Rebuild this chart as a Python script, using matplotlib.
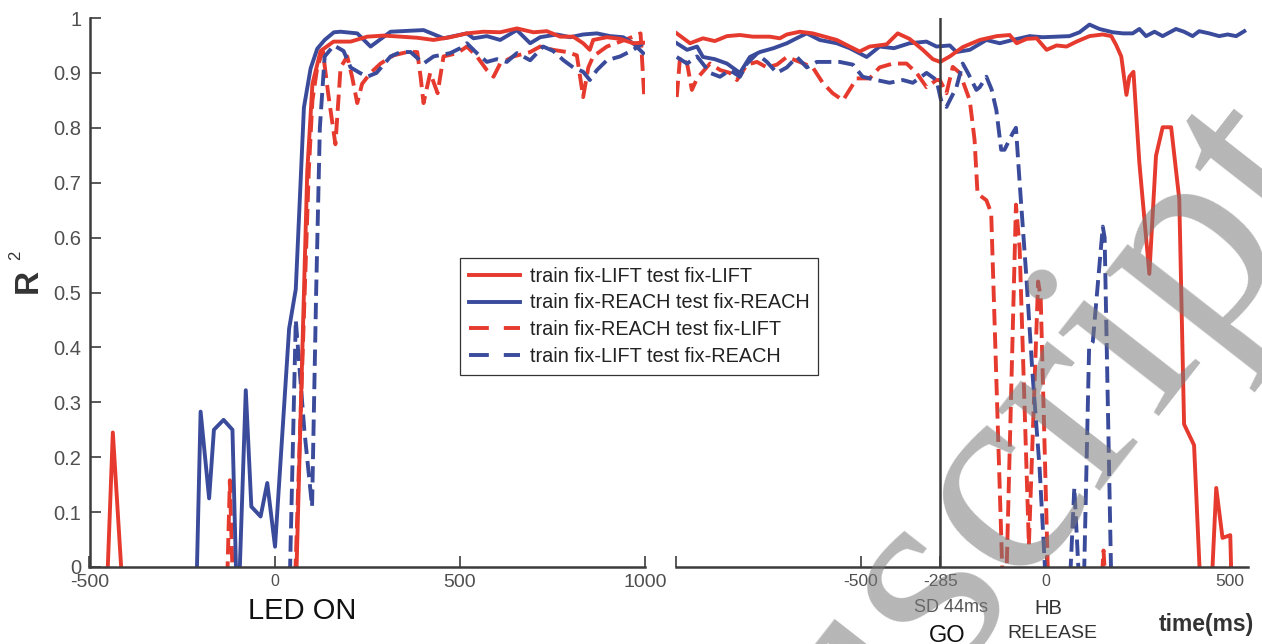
import matplotlib
matplotlib.use('Agg')
import matplotlib.pyplot as plt
from matplotlib.lines import Line2D

plt.rcParams['font.family'] = ['Liberation Sans', 'DejaVu Sans']

RED = '#e63a2e'
BLUE = '#3b4b9b'
AXC = '#3c3c3c'
TICKC = '#4f4f4f'

# ---------------- left panel (aligned on LED ON) ----------------
lift_lift_L_t = [-500, -455, -437, -410, -380, 40, 58, 75, 88, 102, 124, 159, 205, 250, 294, 340, 385, 429,
                 474, 519, 564, 609, 654, 699, 735, 771, 806, 833, 851, 860, 897, 933, 968, 995]
lift_lift_L_v = [-0.6, -0.08, 0.245, -0.05, -0.6, -0.3, -0.03, 0.40, 0.72, 0.88, 0.94, 0.957, 0.957, 0.966,
                 0.968, 0.966, 0.964, 0.96, 0.965, 0.972, 0.975, 0.974, 0.981, 0.974, 0.976, 0.966, 0.966,
                 0.954, 0.942, 0.96, 0.965, 0.962, 0.954, 0.955]

reach_reach_L_t = [-500, -215, -200, -177, -164, -138, -114, -100, -78, -63, -38, -20, 1, 39, 57, 79, 97, 115,
                   135, 160, 178, 223, 259, 313, 402, 456, 519, 537, 573, 609, 654, 690, 717, 762, 798, 833,
                   870, 906, 941, 968, 995]
reach_reach_L_v = [-0.6, -0.15, 0.283, 0.125, 0.25, 0.268, 0.25, -0.12, 0.322, 0.11, 0.092, 0.153, 0.037,
                   0.434, 0.506, 0.837, 0.908, 0.944, 0.96, 0.974, 0.975, 0.972, 0.948, 0.975, 0.978, 0.963,
                   0.972, 0.963, 0.967, 0.96, 0.978, 0.954, 0.965, 0.97, 0.965, 0.97, 0.972, 0.967, 0.965,
                   0.954, 0.936]

reach_lift_L_t = [-500, -131, -121, -110, -60, 40, 55, 70, 92, 102, 115, 130, 145, 164, 178, 196, 209, 223,
                  236, 259, 286, 321, 358, 385, 394, 402, 420, 440, 447, 456, 493, 519, 546, 573, 591, 609,
                  645, 690, 717, 752, 789, 816, 833, 847, 860, 897, 933, 968, 988, 998]
reach_lift_L_v = [-0.6, -0.1, 0.158, -0.1, -0.6, -0.3, -0.03, 0.277, 0.72, 0.85, 0.91, 0.94, 0.86, 0.77,
                  0.91, 0.93, 0.893, 0.845, 0.88, 0.90, 0.917, 0.932, 0.938, 0.938, 0.893, 0.845, 0.90, 0.863,
                  0.893, 0.93, 0.936, 0.948, 0.93, 0.905, 0.893, 0.917, 0.93, 0.938, 0.948, 0.942, 0.938,
                  0.932, 0.856, 0.91, 0.93, 0.948, 0.957, 0.966, 0.972, 0.856]

lift_reach_L_t = [-500, 25, 40, 57, 80, 101, 112, 122, 135, 160, 186, 205, 230, 250, 275, 313, 340, 367, 402,
                  429, 474, 501, 519, 546, 573, 600, 627, 654, 690, 725, 752, 780, 806, 833, 851, 870, 897,
                  933, 968, 995]
lift_reach_L_v = [-0.6, -0.3, -0.05, 0.45, 0.25, 0.11, 0.5, 0.8, 0.93, 0.95, 0.94, 0.91, 0.90, 0.893, 0.90,
                  0.93, 0.938, 0.938, 0.917, 0.93, 0.936, 0.945, 0.954, 0.936, 0.92, 0.925, 0.92, 0.936,
                  0.923, 0.948, 0.94, 0.923, 0.91, 0.902, 0.887, 0.905, 0.923, 0.93, 0.942, 0.954]

# ---------------- right panel (aligned on HB RELEASE) ----------------
lift_lift_R_t = [-998, -962, -927, -895, -862, -827, -792, -746, -719, -700, -665, -630, -603, -565, -530,
                 -503, -476, -430, -400, -368, -332, -305, -285, -259, -224, -178, -132, -97, -78, -51, -24,
                 3, 30, 57, 84, 119, 155, 178, 191, 205, 219, 227, 238, 254, 281, 299, 317, 340, 362, 375,
                 402, 430, 445, 462, 479, 500, 510]
lift_lift_R_v = [0.972, 0.954, 0.963, 0.958, 0.967, 0.969, 0.966, 0.966, 0.963, 0.97, 0.975, 0.972, 0.967,
                 0.96, 0.948, 0.939, 0.948, 0.952, 0.972, 0.962, 0.942, 0.925, 0.92, 0.93, 0.947, 0.96,
                 0.967, 0.969, 0.954, 0.962, 0.963, 0.942, 0.95, 0.948, 0.957, 0.967, 0.97, 0.967, 0.951,
                 0.93, 0.86, 0.893, 0.902, 0.736, 0.534, 0.749, 0.801, 0.801, 0.67, 0.26, 0.222, -0.2, -0.1,
                 0.144, 0.053, 0.058, -0.2]

reach_reach_R_t = [-998, -970, -943, -927, -895, -862, -827, -800, -773, -736, -700, -665, -646, -611, -565,
                   -530, -484, -449, -410, -368, -322, -295, -259, -241, -205, -160, -124, -89, -43, -8, 30,
                   65, 92, 119, 146, 182, 210, 236, 254, 272, 295, 317, 353, 375, 398, 416, 443, 470, 493,
                   516, 538]
reach_reach_R_v = [0.954, 0.942, 0.948, 0.929, 0.925, 0.917, 0.90, 0.929, 0.938, 0.945, 0.954, 0.966, 0.972,
                   0.96, 0.954, 0.945, 0.929, 0.948, 0.945, 0.954, 0.957, 0.948, 0.95, 0.938, 0.942, 0.96,
                   0.954, 0.96, 0.967, 0.965, 0.966, 0.967, 0.974, 0.988, 0.98, 0.974, 0.972, 0.972, 0.98,
                   0.967, 0.975, 0.967, 0.98, 0.975, 0.967, 0.976, 0.972, 0.967, 0.97, 0.967, 0.976]

reach_lift_R_t = [-998, -989, -970, -957, -943, -908, -880, -854, -835, -808, -781, -754, -727, -700, -665,
                  -630, -603, -576, -548, -511, -476, -449, -413, -376, -349, -322, -295, -286, -268, -251,
                  -232, -205, -192, -184, -160, -147, -115, -108, -80, -70, -45, -20, -13, 8, 20, 140, 150,
                  157, 164]
reach_lift_R_v = [0.856, 0.929, 0.917, 0.869, 0.89, 0.917, 0.905, 0.90, 0.887, 0.915, 0.92, 0.91, 0.915,
                  0.929, 0.92, 0.91, 0.882, 0.863, 0.85, 0.89, 0.89, 0.91, 0.917, 0.917, 0.90, 0.874, 0.887,
                  0.887, 0.863, 0.911, 0.90, 0.85, 0.778, 0.68, 0.668, 0.645, -0.05, -0.08, 0.66, 0.58, 0.04,
                  0.52, 0.49, -0.05, -0.3, -0.3, -0.05, 0.03, -0.05]

lift_reach_R_t = [-998, -970, -943, -908, -881, -854, -827, -808, -781, -754, -727, -700, -673, -646, -619,
                  -592, -557, -521, -495, -457, -422, -386, -359, -322, -295, -281, -268, -241, -224, -210,
                  -187, -178, -160, -146, -133, -120, -111, -89, -80, -70, -52, -35, -16, 0, 10, 55, 64, 78,
                  100, 118, 128, 155, 160, 180]
lift_reach_R_v = [0.929, 0.917, 0.93, 0.90, 0.893, 0.905, 0.893, 0.917, 0.935, 0.92, 0.90, 0.91, 0.929, 0.91,
                  0.92, 0.92, 0.92, 0.915, 0.893, 0.887, 0.882, 0.887, 0.882, 0.90, 0.887, 0.845, 0.838,
                  0.874, 0.917, 0.90, 0.869, 0.874, 0.893, 0.87, 0.832, 0.76, 0.76, 0.79, 0.80, 0.70, 0.53,
                  0.35, 0.18, -0.02, -0.2, -0.2, -0.06, 0.145, -0.15, 0.40, 0.41, 0.62, 0.60, -0.1]

labels = ['train fix-LIFT test fix-LIFT', 'train fix-REACH test fix-REACH',
          'train fix-REACH test fix-LIFT', 'train fix-LIFT test fix-REACH']

left_ticks = [-500, 0, 500, 1000]
right_ticks = [-1000, -500, -285, 0, 500]
right_ticklabels = ['', '-500', '-285', '0', '500']
y_ticks = [0, 0.1, 0.2, 0.3, 0.4, 0.5, 0.6, 0.7, 0.8, 0.9, 1]
y_ticklabels = ['0', '0.1', '0.2', '0.3', '0.4', '0.5', '0.6', '0.7', '0.8', '0.9', '1']

W, H = 1262, 644
fig = plt.figure(figsize=(W / 100, H / 100), dpi=100)
fig.patch.set_facecolor('white')

def fx(px):
    return px / W

def fy(py):
    return 1 - py / H

axL = fig.add_axes([fx(89.5), fy(567), (645 - 89.5) / W, (567 - 18) / H])
axR = fig.add_axes([fx(676), fy(567), (1248 - 676) / W, (567 - 18) / H])

LW = 2.8
DASH = (0, (4.2, 1.8))

axL.plot(lift_lift_L_t, lift_lift_L_v, color=RED, lw=LW, zorder=4)
axL.plot(reach_reach_L_t, reach_reach_L_v, color=BLUE, lw=LW, zorder=3)
axL.plot(reach_lift_L_t, reach_lift_L_v, color=RED, lw=LW, ls=DASH, zorder=2)
axL.plot(lift_reach_L_t, lift_reach_L_v, color=BLUE, lw=LW, ls=DASH, zorder=2)

axR.plot(lift_lift_R_t, lift_lift_R_v, color=RED, lw=LW, zorder=4)
axR.plot(reach_reach_R_t, reach_reach_R_v, color=BLUE, lw=LW, zorder=3)
axR.plot(reach_lift_R_t, reach_lift_R_v, color=RED, lw=LW, ls=DASH, zorder=2)
axR.plot(lift_reach_R_t, lift_reach_R_v, color=BLUE, lw=LW, ls=DASH, zorder=2)
axR.axvline(-285, color=AXC, lw=1.8, zorder=5)

axL.set_xlim(-500, 1000)
axR.set_xlim(-1000, 548)
for ax in (axL, axR):
    ax.set_ylim(0, 1)
    ax.set_facecolor('none')
    ax.spines['top'].set_visible(False)
    ax.spines['right'].set_visible(False)
    ax.spines['bottom'].set_color(AXC)
    ax.spines['bottom'].set_linewidth(1.8)
    ax.spines['bottom'].set_zorder(6)
    ax.tick_params(axis='x', direction='in', length=8, width=1.2, color=AXC, pad=5,
                   labelcolor=TICKC)

axL.spines['left'].set_color(AXC)
axL.spines['left'].set_linewidth(1.8)
axL.set_yticks(y_ticks)
axL.set_yticklabels(y_ticklabels, fontsize=14.5, color=TICKC)
axL.tick_params(axis='y', direction='in', length=8, width=1.2, color=AXC, pad=6)
axL.set_xticks(left_ticks)
axL.set_xticklabels([str(v) for v in left_ticks], fontsize=14)
axL.get_xticklabels()[1].set_fontsize(11.5)

axR.spines['left'].set_visible(False)
axR.set_yticks([])
axR.set_xticks(right_ticks)
axR.set_xticklabels(right_ticklabels, fontsize=12.5)
axR.get_xticklabels()[3].set_fontsize(11.5)

# axis annotations
fig.text(fx(28), fy(281), 'R', rotation=90, fontsize=24, fontweight='bold', color='#333333',
         ha='center', va='center')
fig.text(fx(16), fy(255), '2', rotation=90, fontsize=12, color='#333333', ha='center', va='center')
fig.text(fx(302), fy(611), 'LED ON', fontsize=21, color='#111111', ha='center', va='center')
fig.text(fx(951), fy(607), 'SD 44ms', fontsize=13, color='#555555', ha='center', va='center')
fig.text(fx(947), fy(636), 'GO', fontsize=17, color='#111111', ha='center', va='center')
fig.text(fx(1048), fy(609), 'HB', fontsize=14.5, color='#333333', ha='center', va='center')
fig.text(fx(1052), fy(634), 'RELEASE', fontsize=14, color='#333333', ha='center', va='center')
fig.text(fx(1206), fy(625), 'time(ms)', fontsize=16.5, fontweight='bold', color='#333333',
         ha='center', va='center')

handles = [Line2D([], [], color=RED, lw=LW),
           Line2D([], [], color=BLUE, lw=LW),
           Line2D([], [], color=RED, lw=LW, ls=(0, (5.1, 3.85))),
           Line2D([], [], color=BLUE, lw=LW, ls=(0, (5.1, 3.85)))]
leg = fig.legend(handles, labels, loc='upper left', bbox_to_anchor=(fx(460), fy(258)),
                 bbox_transform=fig.transFigure, frameon=True, fancybox=False, framealpha=1,
                 edgecolor='#333333', fontsize=14.3, handlelength=2.55, handletextpad=0.5,
                 labelspacing=0.38, borderpad=0.45, borderaxespad=0)
leg.get_frame().set_linewidth(0.9)
for t in leg.get_texts():
    t.set_color('#222222')

# "Manuscript" watermark crossing the lower right of the page
fig.text(fx(540), fy(1198), 'Manuscript', rotation=52, rotation_mode='anchor', ha='left',
         va='baseline', fontsize=205, family='Liberation Serif', color='#7a7a7a', alpha=0.55,
         zorder=20)

fig.savefig('out.png', dpi=100, facecolor='white')
